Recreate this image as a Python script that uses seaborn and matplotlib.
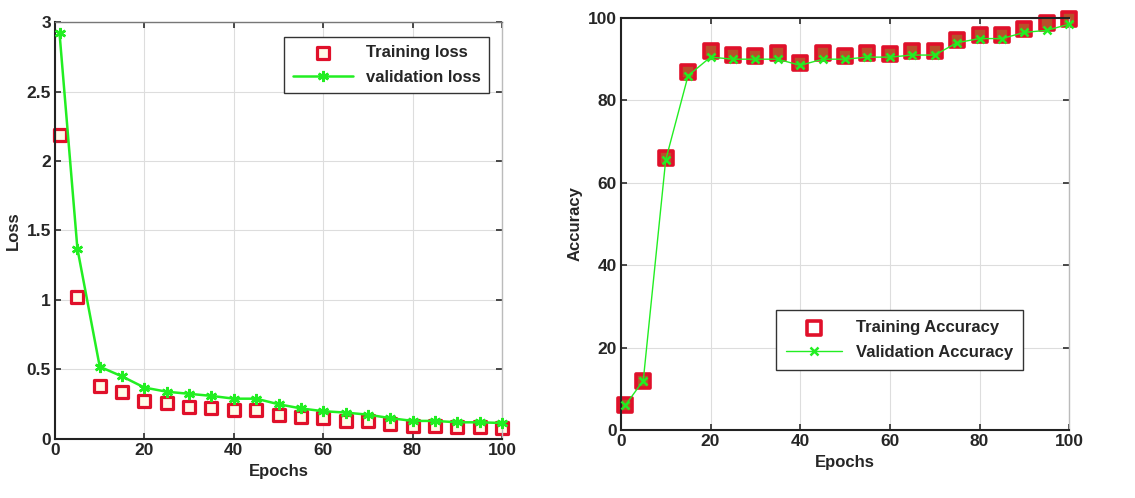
import numpy as np
import pandas as pd
import matplotlib
matplotlib.use("Agg")
import matplotlib.pyplot as plt
import seaborn as sns

epochs = [1, 5, 10, 15, 20, 25, 30, 35, 40, 45, 50, 55, 60, 65, 70, 75, 80, 85, 90, 95, 100]
train_loss = [2.19, 1.02, 0.38, 0.34, 0.27, 0.26, 0.23, 0.22, 0.21, 0.21, 0.175, 0.16, 0.15, 0.13, 0.13,
              0.11, 0.09, 0.095, 0.085, 0.085, 0.08]
val_loss = [2.92, 1.37, 0.52, 0.45, 0.37, 0.34, 0.325, 0.31, 0.29, 0.29, 0.25, 0.22, 0.20, 0.19, 0.175,
            0.15, 0.13, 0.13, 0.12, 0.12, 0.115]
train_acc = [6, 12, 66, 87, 91.9, 91, 90.8, 91.5, 89, 91.5, 90.8, 91.5, 91.3, 92.1, 91.9,
             94.7, 95.9, 95.9, 97.3, 98.7, 99.8]
val_acc = [6, 12, 65.5, 86, 90.5, 90, 90, 90, 88.5, 90, 90, 90.5, 90.5, 91, 91,
           94, 95, 95, 96.5, 97, 98.5]

sns.set_theme(style="whitegrid")
plt.rcParams['font.family'] = ['Liberation Sans', 'DejaVu Sans']
plt.rcParams['font.weight'] = 'bold'

df = pd.DataFrame({"Epochs": epochs, "train_loss": train_loss, "val_loss": val_loss,
                   "train_acc": train_acc, "val_acc": val_acc})

fig = plt.figure(figsize=(11.35, 4.98), dpi=100)
ax1 = fig.add_axes([0.0485, 0.1185, 0.3938, 0.8373])
ax2 = fig.add_axes([0.547, 0.1365, 0.395, 0.8274])

red = '#e0102a'
green = '#22ee22'

# Left: loss
sns.lineplot(data=df, x="Epochs", y="val_loss", ax=ax1, color=green, linewidth=1.8,
             marker=(6, 2, 0), markersize=8, markeredgewidth=1.8, markeredgecolor=green,
             label="validation loss", zorder=3, clip_on=False)
sns.scatterplot(data=df, x="Epochs", y="train_loss", ax=ax1, marker='s', s=75,
                facecolor='#fffbe8', edgecolor=red, linewidth=2.3, label="Training loss",
                zorder=2, clip_on=False)
ax1.set_xlim(0, 100)
ax1.set_ylim(0, 3)
ax1.set_xticks([0, 20, 40, 60, 80, 100])
ax1.set_yticks([0, 0.5, 1, 1.5, 2, 2.5, 3])
ax1.set_yticklabels(['0', '0.5', '1', '1.5', '2', '2.5', '3'])
ax1.set_ylabel("Loss", fontsize=12, fontweight='bold')
ax1.set_xlabel("Epochs", fontsize=12, fontweight='bold')
h, l = ax1.get_legend_handles_labels()
leg1 = ax1.legend(h[::-1], l[::-1], loc='upper right', fontsize=12, frameon=True, fancybox=False,
                  edgecolor='#333333', framealpha=1, handlelength=3.6, borderpad=0.5,
                  labelspacing=0.6, bbox_to_anchor=(0.99, 0.985))
for t in leg1.get_texts():
    t.set_fontweight('bold')

# Right: accuracy
sns.scatterplot(data=df, x="Epochs", y="train_acc", ax=ax2, marker='s', s=100,
                facecolor='#b8502a', edgecolor=red, linewidth=2.6, label="Training Accuracy",
                zorder=2, clip_on=False)
sns.lineplot(data=df, x="Epochs", y="val_acc", ax=ax2, color=green, linewidth=1.0,
             marker='x', markersize=6, markeredgewidth=1.8, markeredgecolor=green,
             label="Validation Accuracy", zorder=3, clip_on=False)
ax2.set_xlim(0, 100)
ax2.set_ylim(0, 100)
ax2.set_xticks([0, 20, 40, 60, 80, 100])
ax2.set_yticks([0, 20, 40, 60, 80, 100])
ax2.set_ylabel("Accuracy", fontsize=12, fontweight='bold')
ax2.set_xlabel("Epochs", fontsize=12, fontweight='bold')
leg2 = ax2.legend(loc='lower right', fontsize=12, frameon=True, fancybox=False,
                  edgecolor='#333333', framealpha=1, handlelength=3.4, borderpad=0.6,
                  labelspacing=0.6, bbox_to_anchor=(0.915, 0.125))
for t in leg2.get_texts():
    t.set_fontweight('bold')
leg2.legend_handles[0].set_facecolor('white')

for ax in (ax1, ax2):
    ax.set_facecolor('white')
    ax.grid(True, color='#dddddd', linewidth=0.8)
    ax.tick_params(axis='both', direction='in', length=4, labelsize=12.5, pad=3,
                   color='#333333', top=True, right=True, bottom=True, left=True)
    for lab in ax.get_xticklabels() + ax.get_yticklabels():
        lab.set_fontweight('bold')
    for side in ('left', 'bottom'):
        ax.spines[side].set_color('#222222')
        ax.spines[side].set_linewidth(1.5)
    for side in ('top', 'right'):
        ax.spines[side].set_color('#bbbbbb')
        ax.spines[side].set_linewidth(1.0)
ax2.spines['top'].set_color('#222222')
ax2.spines['top'].set_linewidth(1.5)
ax1.spines['top'].set_color('#777777')

fig.savefig("out.png", dpi=100, facecolor='white')
